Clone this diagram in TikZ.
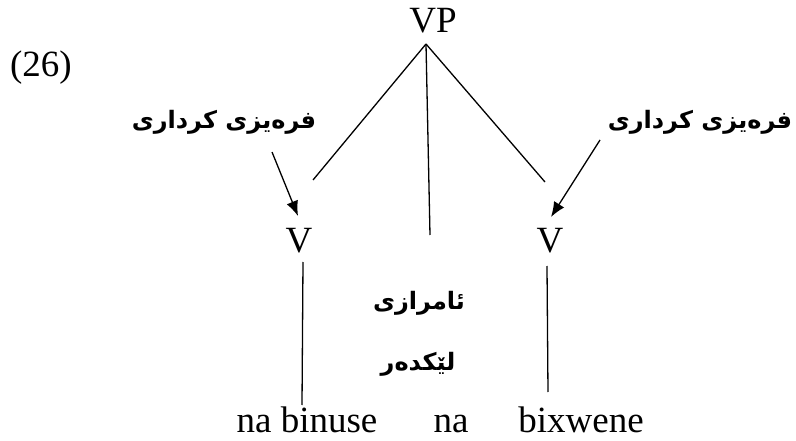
\documentclass[tikz,border=0pt]{standalone}
\usepackage{fontspec}
\setmainfont{Liberation Serif}
\newfontfamily\kurd[Script=Arabic]{DejaVu Sans}
\TeXXeTstate=1
\usetikzlibrary{arrows.meta}
\begin{document}
\begin{tikzpicture}[x=1pt,y=-1pt,
  lat/.style={font=\fontsize{37}{40}\selectfont, inner sep=0pt, anchor=base},
  kur/.style={font=\kurd\bfseries\fontsize{24}{28}\selectfont, inner sep=0pt},
  branch/.style={line width=1.3pt},
  pointer/.style={line width=1.3pt, -{Latex[length=15pt,width=12pt]}}]
\useasboundingbox (0,0) rectangle (796,441);
% labels
\node[lat] (ex) at (41,77) {(26)};
\node[lat] (vp) at (433,33) {VP};
\node[lat] (vl) at (299,253) {V};
\node[lat] (vr) at (550,253) {V};
\node[lat] (w1) at (307,432) {na binuse};
\node[lat] (w2) at (451,432) {na};
\node[lat] (w3) at (581,432) {bixwene};
\node[kur] (kl) at (224,122) {\beginR فرەیزی کرداری\endR};
\node[kur] (kr) at (700,122) {\beginR فرەیزی کرداری\endR};
\node[kur] (m1) at (419,303) {\beginR ئامرازی\endR};
\node[kur] (m2) at (418,364) {\beginR لێکدەر\endR};
% branch points
\coordinate (apex) at (426,44);
\coordinate (le) at (313,180);
\coordinate (me) at (430,235);
\coordinate (re) at (545,182);
\coordinate (lt) at (303,262);
\coordinate (lb) at (302,405);
\coordinate (rt) at (547,266);
\coordinate (rb) at (548,392);
\coordinate (als) at (272,152);
\coordinate (alt) at (298,216);
\coordinate (ars) at (600,140);
\coordinate (art) at (551,217);
\draw[branch] (apex) -- (le);
\draw[branch] (apex) -- (me);
\draw[branch] (apex) -- (re);
\draw[branch] (lt) -- (lb);
\draw[branch] (rt) -- (rb);
\draw[pointer] (als) -- (alt);
\draw[pointer] (ars) -- (art);
\end{tikzpicture}
\end{document}
